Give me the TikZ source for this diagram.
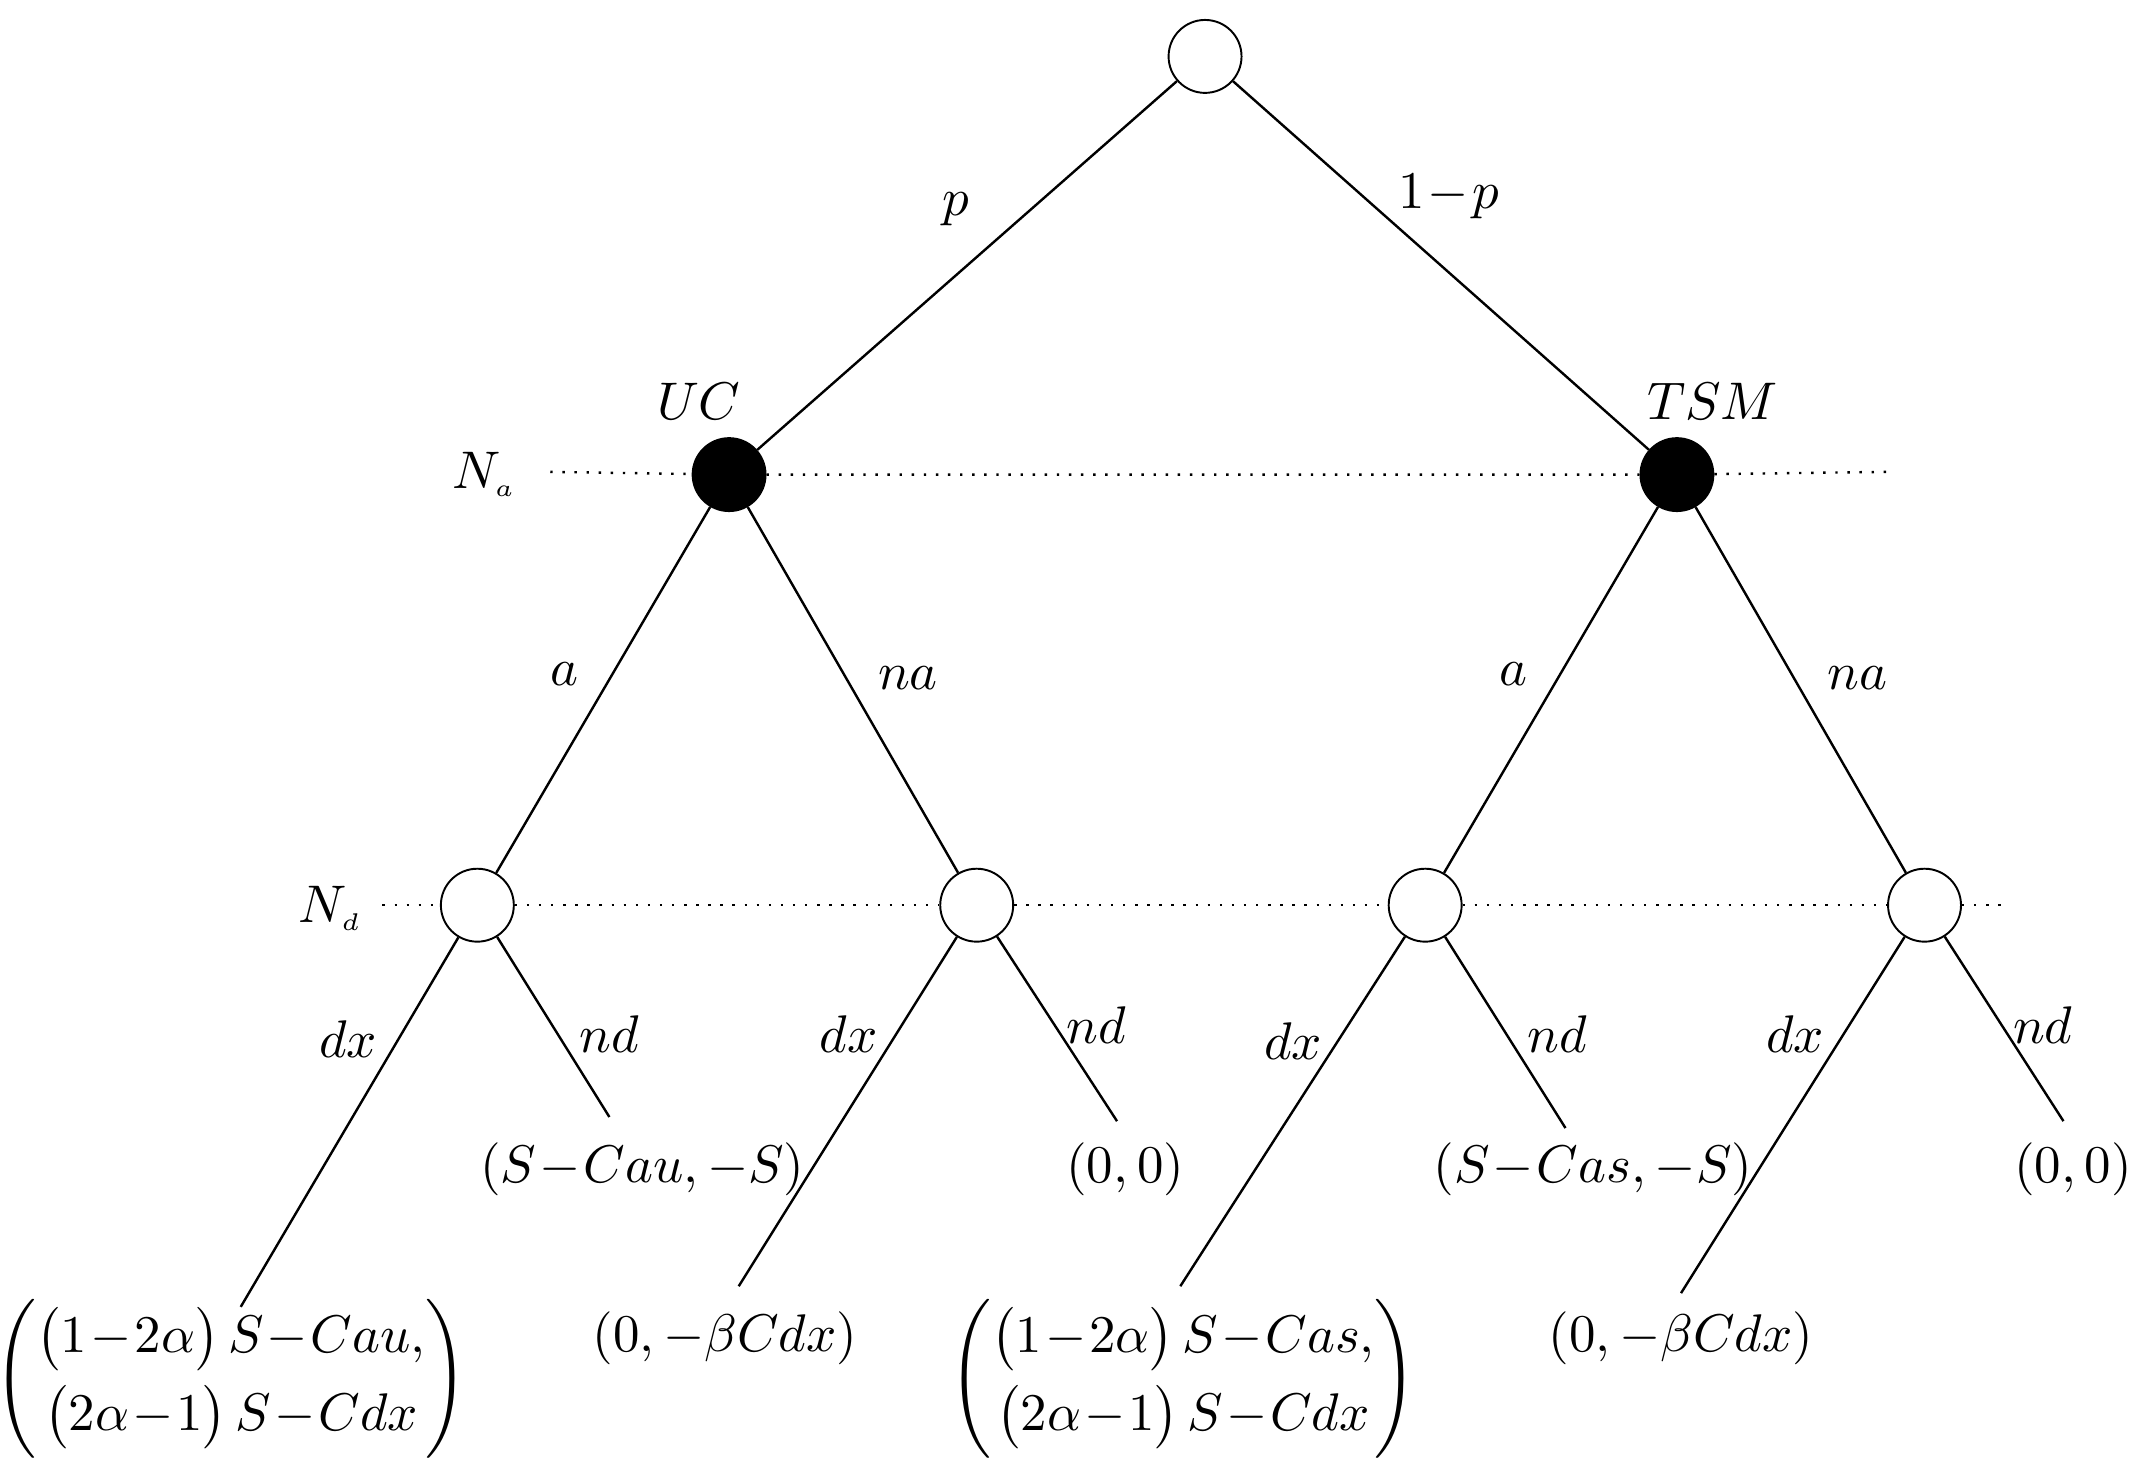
\documentclass[tikz,border=0pt]{standalone}
\usepackage{amsmath}
\usepackage{fontspec}
\setmainfont{Liberation Serif}
\medmuskip=1mu\relax
\thickmuskip=2mu\relax
\begin{document}
\begin{tikzpicture}[x=0.01cm,y=-0.01cm,
  every node/.style={font=\fontsize{11}{13}\selectfont},
  chance/.style={circle,draw,minimum size=0.53cm,inner sep=0pt},
  player/.style={circle,draw,fill=black,minimum size=0.53cm,inner sep=0pt},
  lab/.style={inner sep=1pt},
  edge/.style={line width=0.5pt},
  level/.style={dotted,line width=0.5pt}]
\useasboundingbox (0,0) rectangle (1560,1066);
\node[chance] (r) at (876,41) {};
\node[player] (uc) at (530,345) {};
\node[player] (tsm) at (1219,345) {};
\coordinate (na1) at (400,343); \coordinate (na2) at (1372,343);
\coordinate (nd1) at (278,658); \coordinate (nd2) at (1460,658);
\draw[level] (na1) -- (uc) -- (tsm) -- (na2);
\node[chance] (c1) at (347,658) {};
\node[chance] (c2) at (710,658) {};
\node[chance] (c3) at (1036,658) {};
\node[chance] (c4) at (1399,658) {};
\draw[level] (nd1) -- (c1) -- (c2) -- (c3) -- (c4) -- (nd2);
\node at (352,345) {$N_{\scriptscriptstyle a}$};
\node at (240,660) {$N_{\scriptscriptstyle d}$};
\draw[edge] (r) -- (uc); \draw[edge] (r) -- (tsm);
\draw[edge] (uc) -- (c1); \draw[edge] (uc) -- (c2);
\draw[edge] (tsm) -- (c3); \draw[edge] (tsm) -- (c4);
\coordinate (l1) at (175,950); \coordinate (l2) at (443,812);
\coordinate (l3) at (537,935); \coordinate (l4) at (812,815);
\coordinate (l5) at (858,935); \coordinate (l6) at (1138,820);
\coordinate (l7) at (1222,940); \coordinate (l8) at (1500,815);
\draw[edge] (c1) -- (l1); \draw[edge] (c1) -- (l2);
\draw[edge] (c2) -- (l3); \draw[edge] (c2) -- (l4);
\draw[edge] (c3) -- (l5); \draw[edge] (c3) -- (l6);
\draw[edge] (c4) -- (l7); \draw[edge] (c4) -- (l8);
\node[lab] (tp) at (695,152) {$p$};
\node[lab] (t1p) at (1053,143) {$1-p$};
\node[lab] (tuc) at (508,292) {$UC$};
\node[lab] (ttsm) at (1245,292) {$TSM$};
\node[lab] at (410,490) {$a$};
\node[lab] at (660,493) {$na$};
\node[lab] at (1100,490) {$a$};
\node[lab] at (1350,493) {$na$};
\node[lab] at (253,755) {$dx$};
\node[lab] at (443,752) {$nd$};
\node[lab] at (617,752) {$dx$};
\node[lab] at (797,745) {$nd$};
\node[lab] at (940,757) {$dx$};
\node[lab] at (1132,752) {$nd$};
\node[lab] at (1305,752) {$dx$};
\node[lab] at (1485,745) {$nd$};
\node (p2) at (467,850) {$(S-Cau,-S)$};
\node (p4) at (818,850) {$(0,0)$};
\node (p6) at (1158,850) {$(S-Cas,-S)$};
\node (p8) at (1507,850) {$(0,0)$};
\node (p3) at (527,973) {$(0,-\beta Cdx)$};
\node (p7) at (1222,973) {$(0,-\beta Cdx)$};
\node (p1) at (168,1002) {$\begin{pmatrix}\bigl(1-2\alpha\bigr)\,S-Cau,\\[3pt]\bigl(2\alpha-1\bigr)\,S-Cdx\end{pmatrix}$};
\node (p5) at (860,1002) {$\begin{pmatrix}\bigl(1-2\alpha\bigr)\,S-Cas,\\[3pt]\bigl(2\alpha-1\bigr)\,S-Cdx\end{pmatrix}$};
\end{tikzpicture}
\end{document}
